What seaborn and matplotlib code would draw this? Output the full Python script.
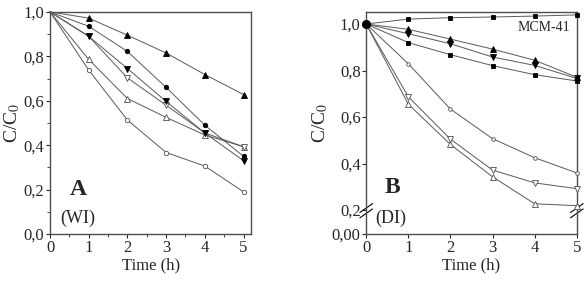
import numpy as np
import pandas as pd
import matplotlib
matplotlib.use("Agg")
import matplotlib.pyplot as plt
import seaborn as sns
from matplotlib.ticker import MultipleLocator, FuncFormatter

# time points (h)
time = [0, 1, 2, 3, 4, 5]

# panel A (WI)
a_tri_up_f = [1.0, 0.972, 0.895, 0.815, 0.718, 0.628]
a_circ_f = [1.0, 0.935, 0.822, 0.660, 0.490, 0.350]
a_tri_dn_f = [1.0, 0.890, 0.745, 0.597, 0.455, 0.330]
a_tri_dn_o = [1.0, 0.890, 0.703, 0.580, 0.455, 0.393]
a_tri_up_o = [1.0, 0.786, 0.610, 0.525, 0.446, 0.393]
a_circ_o = [1.0, 0.738, 0.513, 0.367, 0.306, 0.190]

# panel B (DI)
b_mcm41 = [1.0, 1.021, 1.027, 1.030, 1.034, 1.039]
b_tri_up_f = [1.0, 0.977, 0.935, 0.892, 0.844, 0.771]
b_tri_dn_f = [1.0, 0.958, 0.915, 0.858, 0.822, 0.766]
b_sq_f = [1.0, 0.920, 0.868, 0.821, 0.782, 0.755]
b_circ_o = [1.0, 0.829, 0.634, 0.507, 0.425, 0.360]
b_tri_dn_o = [1.0, 0.687, 0.505, 0.372, 0.317, 0.292]
b_tri_up_o = [1.0, 0.655, 0.482, 0.343, 0.227, 0.219]

sns.set_style("ticks")
plt.rcParams['font.family'] = ['Liberation Serif', 'DejaVu Serif']
plt.rcParams['mathtext.fontset'] = 'stix'

fig = plt.figure(figsize=(5.85, 2.83), dpi=100)
ax1 = fig.add_axes([0.0855, 0.173, 0.344, 0.785])
ax2 = fig.add_axes([0.626, 0.173, 0.360, 0.785])

line_col = '0.35'

def draw(ax, y, m, filled, ms, every):
    sns.lineplot(x=time, y=y, ax=ax, color=line_col, lw=0.7, marker=m,
                 markersize=ms, markerfacecolor='k' if filled else 'white',
                 markeredgecolor='k' if filled else '0.3', markeredgewidth=0.6,
                 markevery=every, zorder=3, clip_on=False)

# ---- panel A
every_a = slice(1, None)
draw(ax1, a_circ_o, 'o', False, 3.2, every_a)
draw(ax1, a_tri_up_o, '^', False, 4.8, every_a)
draw(ax1, a_tri_dn_o, 'v', False, 4.8, every_a)
draw(ax1, a_tri_dn_f, 'v', True, 4.2, every_a)
draw(ax1, a_circ_f, 'o', True, 3.2, every_a)
draw(ax1, a_tri_up_f, '^', True, 4.2, every_a)

comma = FuncFormatter(lambda v, p: f"{v:.1f}".replace('.', ','))

ax1.set_xlim(0, 5.2)
ax1.set_ylim(0, 1.0)
ax1.xaxis.set_major_locator(MultipleLocator(1))
ax1.xaxis.set_minor_locator(MultipleLocator(0.5))
ax1.yaxis.set_major_locator(MultipleLocator(0.2))
ax1.yaxis.set_minor_locator(MultipleLocator(0.1))
ax1.yaxis.set_major_formatter(comma)
ax1.text(0.73, 0.2, 'A', fontsize=17, fontweight='bold', ha='center', va='center')
ax1.text(0.26, 0.072, '(WI)', fontsize=13, ha='left', va='center')

# ---- panel B
every_b = slice(1, None)
draw(ax2, b_tri_up_o, '^', False, 4.8, every_b)
draw(ax2, b_tri_dn_o, 'v', False, 4.8, every_b)
draw(ax2, b_circ_o, 'o', False, 2.6, every_b)
draw(ax2, b_sq_f, 's', True, 2.6, every_b)
draw(ax2, b_tri_dn_f, 'v', True, 4.2, every_b)
draw(ax2, b_tri_up_f, '^', True, 4.2, every_b)
draw(ax2, b_mcm41, 's', True, 2.6, every_b)
ax2.plot([time[0]], [b_mcm41[0]], 'o', color='k', ms=5.5, zorder=5, clip_on=False)

b_bottom = 0.097
ax2.set_xlim(0, 5)
ax2.set_ylim(b_bottom, 1.052)
ax2.xaxis.set_major_locator(MultipleLocator(1))
b_yticks = [b_bottom, 0.2, 0.4, 0.6, 0.8, 1.0]
b_ylabels = ['0,00', '0,2', '0,4', '0,6', '0,8', '1,0']
ax2.set_yticks(b_yticks)
ax2.set_yticklabels(b_ylabels)
ax2.text(0.62, 0.295, 'B', fontsize=17, fontweight='bold', ha='center', va='center')
ax2.text(0.21, 0.166, '(DI)', fontsize=13, ha='left', va='center')
ax2.text(4.85, 0.987, 'MCM-41', fontsize=10, ha='right', va='center')

# axis break marks
for xa in (0.0, 1.0):
    for off in (-0.012, 0.012):
        ax2.plot([xa - 0.03, xa + 0.03], [0.105 + off - 0.02, 0.105 + off + 0.02],
                 transform=ax2.transAxes, color='k', lw=0.8, clip_on=False)

for ax in (ax1, ax2):
    for s in ax.spines.values():
        s.set_visible(True)
        s.set_linewidth(1.0)
        s.set_color('0.3')
    ax.tick_params(which='major', direction='out', length=3, width=0.8,
                   labelsize=12, pad=1)
    ax.tick_params(which='minor', direction='out', length=2, width=0.6)
    ax.set_xlabel('Time (h)', fontsize=12, labelpad=1)
    ax.set_ylabel('C/C$_0$', fontsize=14, labelpad=1)

fig.savefig('out.png', dpi=100)
